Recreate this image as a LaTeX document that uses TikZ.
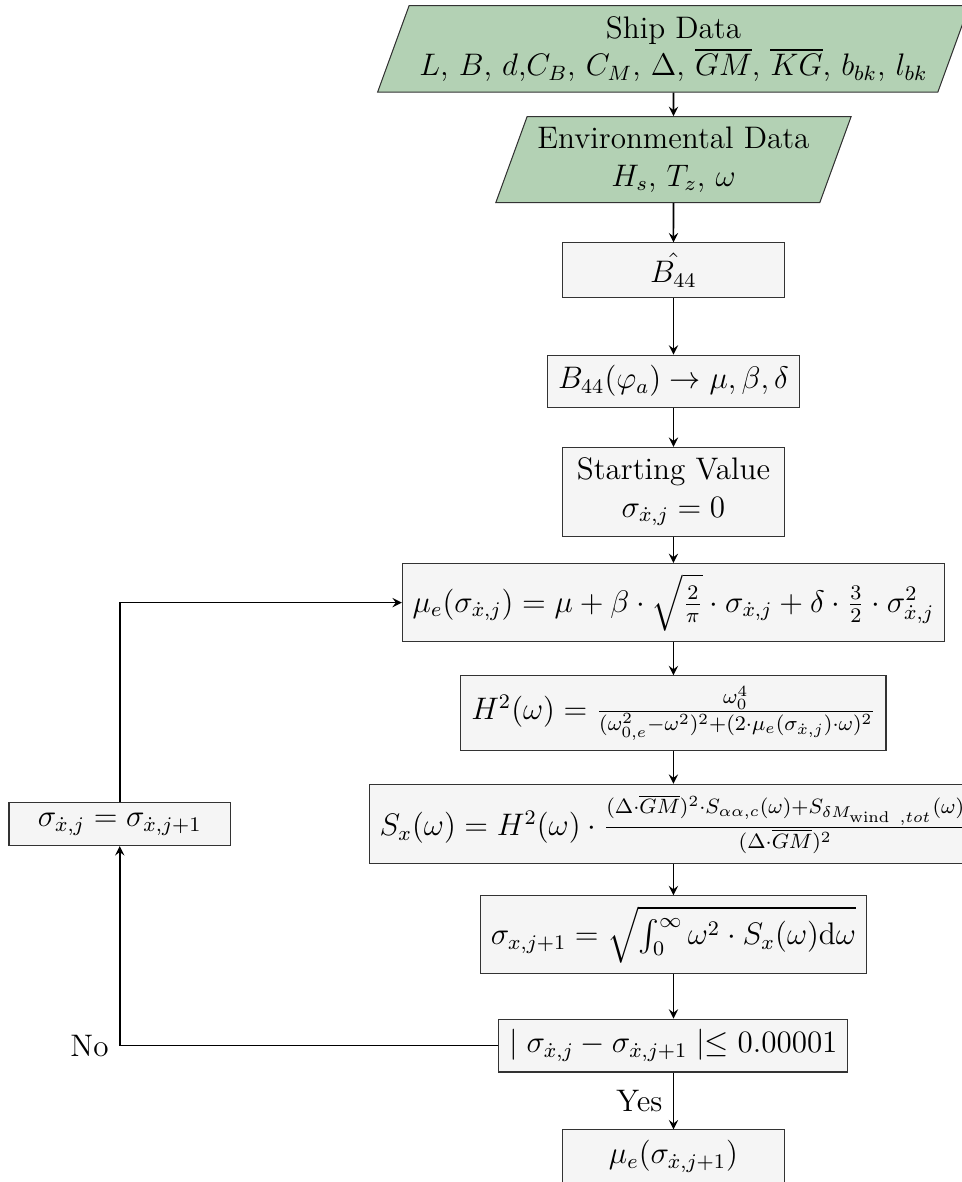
\documentclass[12pt,tikz,border=0pt]{standalone}
\usepackage{amsmath}
\usetikzlibrary{shapes.geometric,positioning}
\definecolor{datagreen}{RGB}{179,209,180}

\begin{document}
\begin{tikzpicture}[
  box/.style={draw=black!80, fill=gray!8, align=center, minimum width=3cm},
  io/.style={trapezium, trapezium left angle=70, trapezium right angle=110,
    draw=black!80, fill=datagreen, align=center},
  arrow/.style={->, >=stealth, semithick},
  node distance=1.5cm, on grid
]
\useasboundingbox (-9.122,-15.348) rectangle (3.908,0.662);

% input data
\node[io] (ship) {Ship Data\\ $L$, $B$, $d$,$C_B$, $C_M$, $\Delta$, $\overline{GM}$, $\overline{KG}$, $b_{bk}$, $l_{bk}$};
\node[io, below=of ship] (env) {Environmental Data\\ $H_s$, $T_z$, $\omega$};

% damping and start
\node[box, below=of env] (bhat) {$\hat{B_{44}}$};
\node[box, below=of bhat] (coef) {$B_{44}(\varphi_a) \rightarrow \mu, \beta, \delta$};
\node[box, below=of coef] (start) {Starting Value\\ $\sigma_{\dot{x},j} = 0$};

% iteration
\node[box, below=of start] (mue) {$\mu_e(\sigma_{\dot{x},j}) = \mu + \beta \cdot \sqrt{\frac{2}{\pi}} \cdot \sigma_{\dot{x},j} + \delta \cdot \frac{3}{2} \cdot \sigma_{\dot{x},j}^2$};
\node[box, below=of mue] (hsq) {$H^2(\omega) = \frac{\omega_0^4}{(\omega_{0,e}^2-\omega^2)^2+(2\cdot\mu_e(\sigma_{\dot{x},j})\cdot\omega)^2}$};
\node[box, below=of hsq] (sx) {$S_x(\omega) = H^2(\omega) \cdot \frac{(\Delta\cdot\overline{GM})^2\cdot S_{\alpha\alpha,c}(\omega)+S_{\delta M_{\mathrm{wind}\ ,tot}}(\omega)}{(\Delta\cdot\overline{GM})^2}$};
\node[box, below=of sx] (signew) {$\sigma_{x,j+1} = \sqrt{\int_0^\infty \omega^2 \cdot S_x(\omega) \mathrm{d}\omega}$};
\node[box, below=of signew] (cond) {$\mid \sigma_{\dot{x},j} - \sigma_{\dot{x},j+1} \mid \leq 0.00001$};
\node[box, below=of cond] (result) {$\mu_e(\sigma_{\dot{x},j+1})$};

\node[box, left=7.5cm of sx] (update) {$\sigma_{\dot{x},j} = \sigma_{\dot{x},j+1}$};

\draw[arrow] (ship) -- (env);
\draw[arrow] (env) -- (bhat);
\draw[arrow] (bhat) -- (coef);
\draw[arrow] (coef) -- (start);
\draw[arrow] (start) -- (mue);
\draw[arrow] (mue) -- (hsq);
\draw[arrow] (hsq) -- (sx);
\draw[arrow] (sx) -- (signew);
\draw[arrow] (signew) -- (cond);
\draw[arrow] (cond) -- node[left] {Yes} (result);

% loop back
\draw[arrow] (cond.west) -| node[pos=0.5, left] {No} (update.south);
\draw[arrow] (update.north) |- (mue.west);

\end{tikzpicture}
\end{document}
